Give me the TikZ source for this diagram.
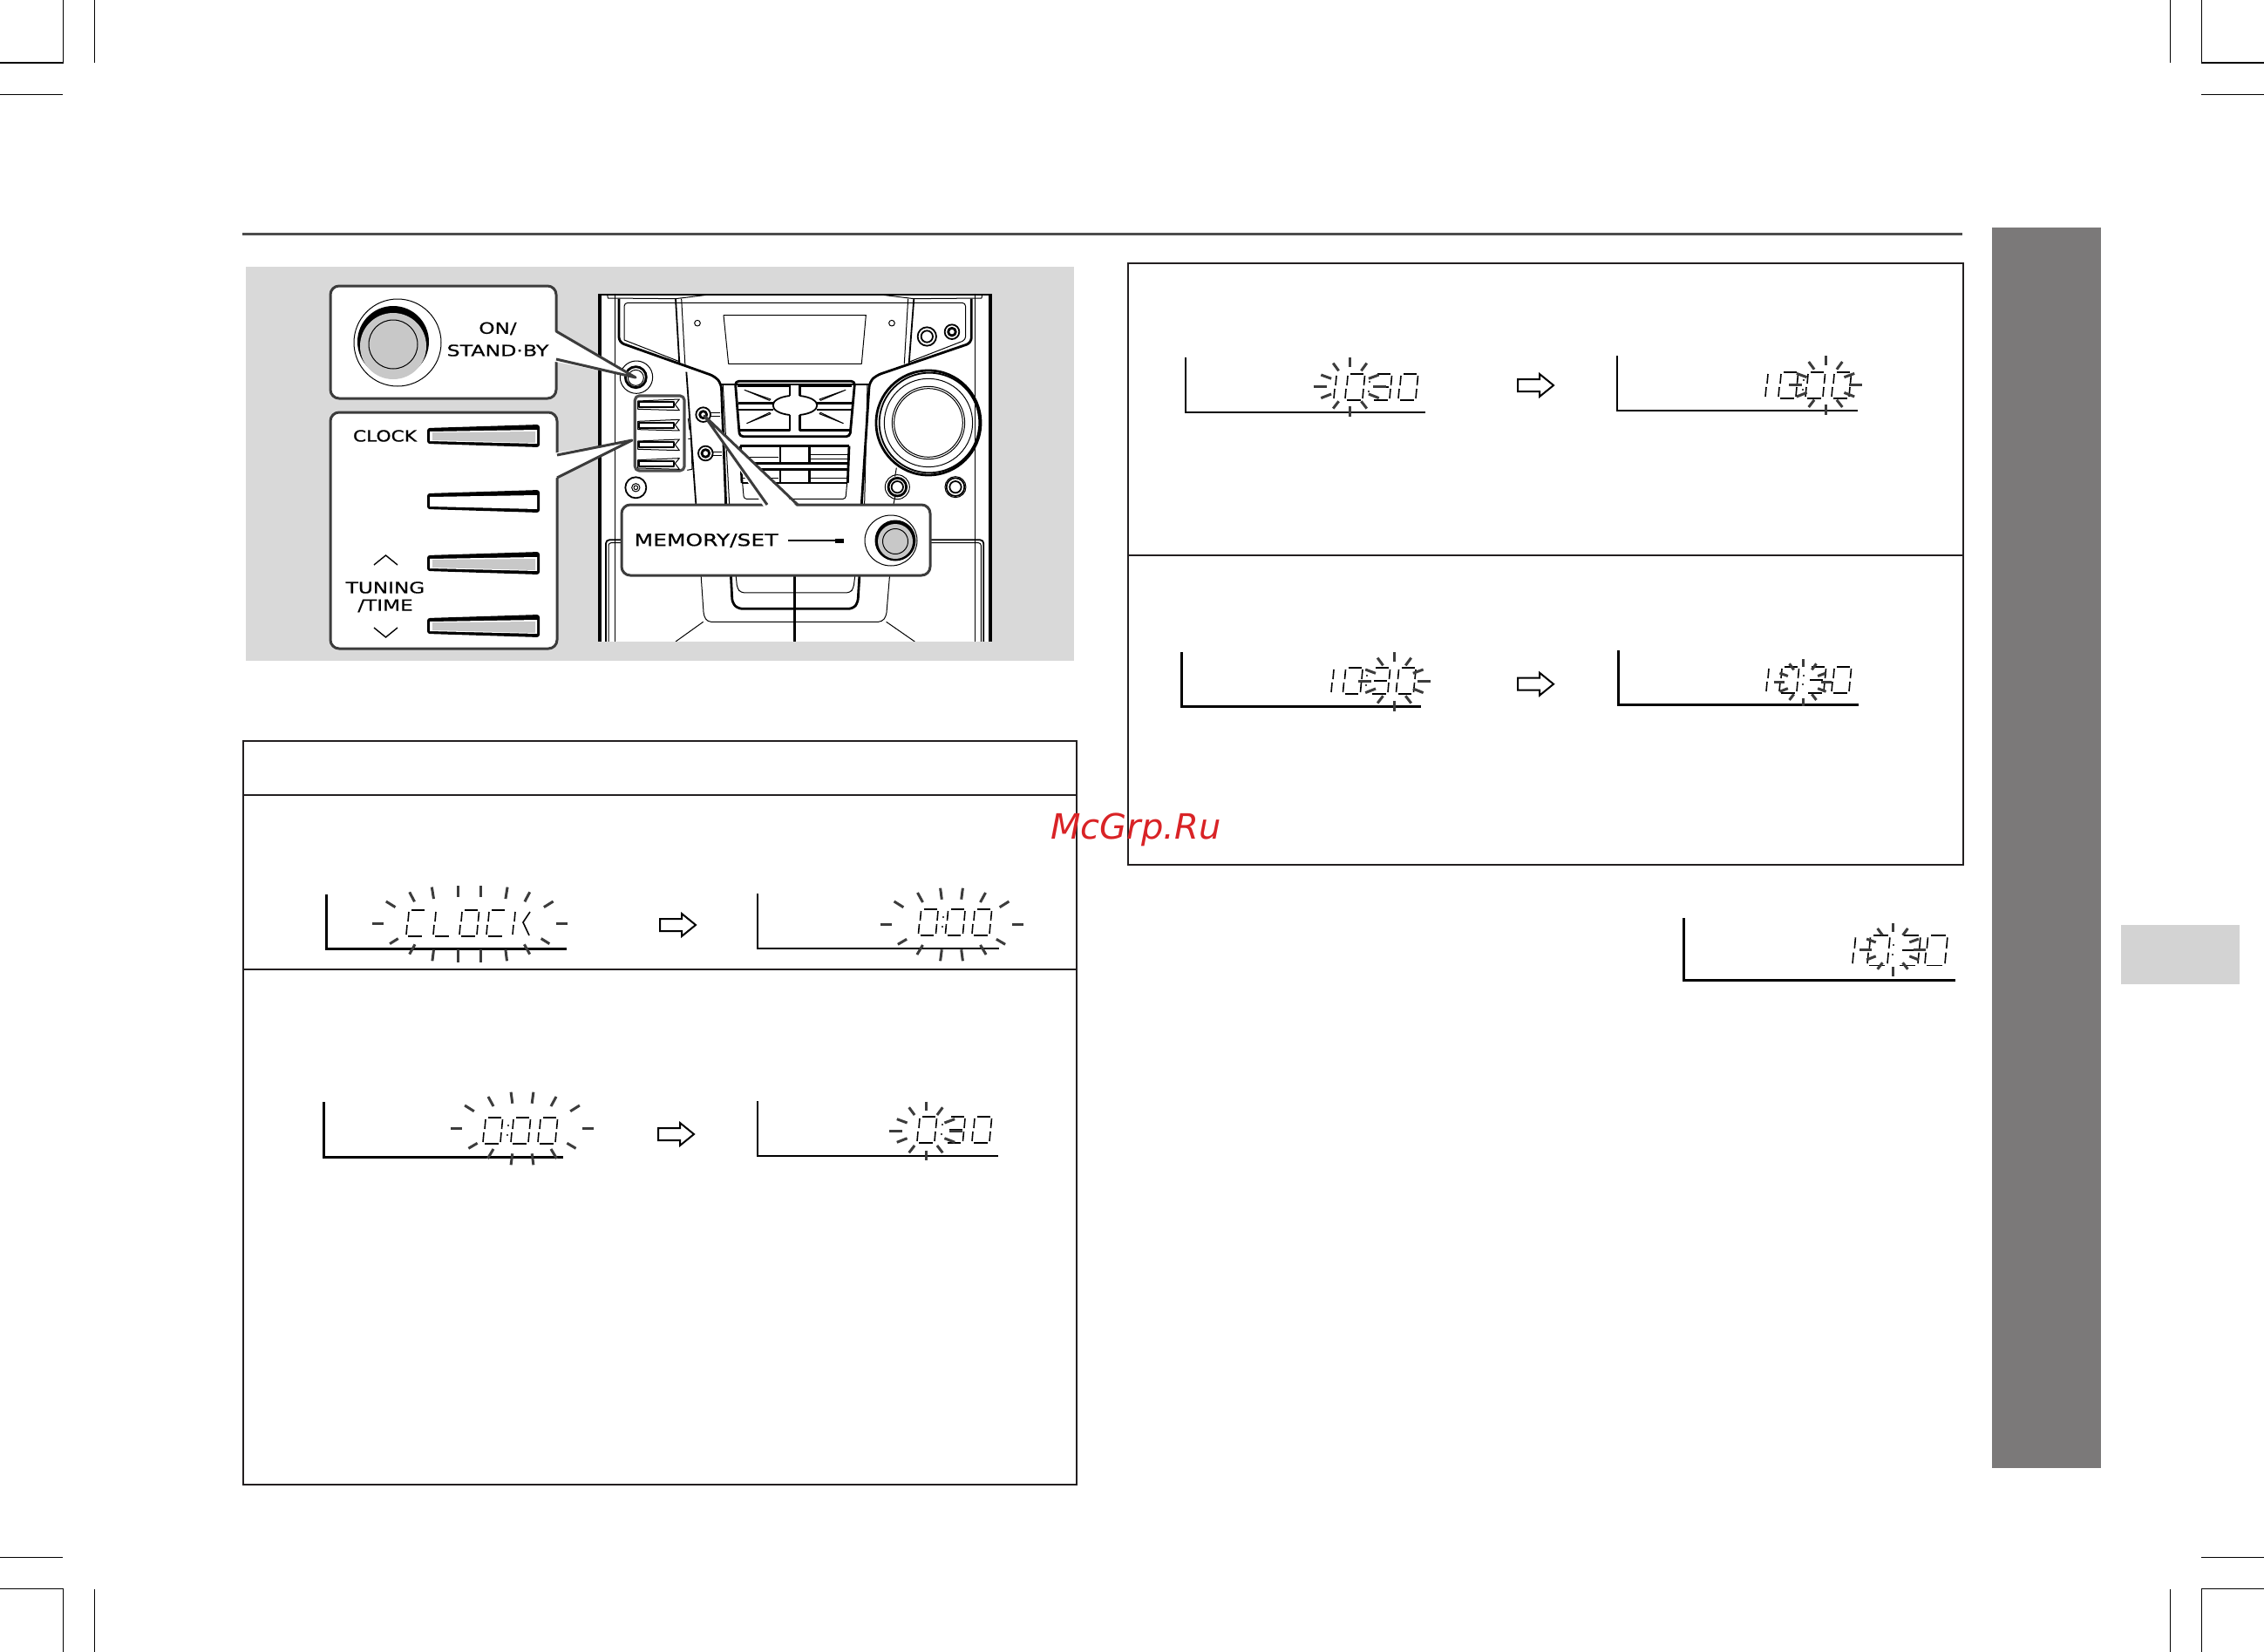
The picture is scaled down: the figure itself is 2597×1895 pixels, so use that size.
\documentclass[tikz,border=0pt]{standalone}
\usepackage{fontspec}
\setmainfont{DejaVu Sans}
\newfontfamily\capfont[FakeBold=0.5]{DejaVu Sans}
\definecolor{panelgray}{HTML}{D9D9D9}
\definecolor{sidegray}{HTML}{7B7979}
\definecolor{tabgray}{HTML}{D3D3D3}
\definecolor{btngray}{HTML}{C8C8C8}
\definecolor{inkdark}{HTML}{231F20}
\definecolor{raygray}{HTML}{3C3C3C}
\definecolor{callgray}{HTML}{3C3C3C}
\definecolor{markred}{HTML}{D92326}
\tikzset{
  crop/.style={black,line width=.7pt},
  rulebox/.style={inkdark,line width=1pt},
  seg/.style={black,line width=.8pt},
  ray/.style={raygray,line width=1.5pt},
  axisthick/.style={black,line width=1.5pt},
  axisthin/.style={black,line width=1.1pt},
  dt/.style={black,line width=.5pt,line join=round},
  dm/.style={black,line width=.9pt,line join=round},
  dk/.style={black,line width=1.4pt,line join=round},
  callout/.style={callgray,line width=1.5pt,line join=round},
  caplabel/.style={inner sep=0pt,font=\capfont\fontsize{8.9}{9}\selectfont,text=black},
}
\def\dsega{\draw[seg] (6,0)--(21,0);}
\def\dsegb{\draw[seg] (22.5,2)--(21.5,13);}
\def\dsegc{\draw[seg] (21,17)--(20,28);}
\def\dsegd{\draw[seg] (2,30)--(17.5,30);}
\def\dsege{\draw[seg] (1,17)--(0,28);}
\def\dsegf{\draw[seg] (3,2)--(2,13);}
\def\dsegg{\draw[seg] (4,15)--(19,15);}
\def\dsegk{\draw[seg] (20,2)--(12,14)--(19,29);}
\newcommand\dig[4]{\begin{scope}[shift={(#1,#2)},scale=#3]\foreach \q in {#4}{\csname dseg\q\endcsname}\end{scope}}
\newcommand\colondots[3]{\fill (#1,#2) circle[radius=1.1]; \fill (#1-1,#3) circle[radius=1.1];}
\newcommand\raysWide[2]{\begin{scope}[shift={(#1,#2)}]\foreach \s in {-1,1}{
  \draw[ray] (\s*95.9,-25.3)--(\s*85.2,-18.7);
  \draw[ray] (\s*69,-36)--(\s*63.2,-25);
  \draw[ray] (\s*43.4,-41.7)--(\s*41.2,-28.3);
  \draw[ray] (\s*12.8,-43.3)--(\s*12.8,-30);
  \draw[ray] (\s*112,0)--(\s*99,0);
  \draw[ray] (\s*91.6,23.3)--(\s*82,17.3);
  \draw[ray] (\s*62.7,24)--(\s*69,35.3);
  \draw[ray] (\s*41.2,30)--(\s*42.8,43);
  \draw[ray] (\s*12.8,30)--(\s*12.8,44.3);
}\end{scope}}
\newcommand\raysMid[2]{\begin{scope}[shift={(#1,#2)}]\foreach \s in {-1,1}{
  \draw[ray] (\s*65.9,-26)--(\s*55.2,-19.3);
  \draw[ray] (\s*39,-36)--(\s*33,-25);
  \draw[ray] (\s*12.9,-41.3)--(\s*11.2,-28.3);
  \draw[ray] (\s*82,0)--(\s*69,0);
  \draw[ray] (\s*61.6,23.3)--(\s*51.4,17.3);
  \draw[ray] (\s*33,24)--(\s*39.6,35);
  \draw[ray] (\s*11.2,29.3)--(\s*12.9,42.3);
}\end{scope}}
\newcommand\raysStar[3]{\begin{scope}[shift={(#1,#2)},scale=#3]
  \draw[ray] (0,-33.3)--(0,-22.7);
  \draw[ray] (0,22.7)--(0,34.3);
  \foreach \s in {-1,1}{
  \draw[ray] (\s*19.3,-26.7)--(\s*12.9,-18);
  \draw[ray] (\s*33.2,-13.3)--(\s*21.4,-9);
  \draw[ray] (\s*41.8,0)--(\s*26.8,0);
  \draw[ray] (\s*33.2,13.3)--(\s*21.4,8.7);
  \draw[ray] (\s*19.3,25.3)--(\s*12.9,17);
}\end{scope}}
\newcommand\axes[5]{\draw[#5] (#1,#2)--(#1,#3)--(#4,#3);}
\newcommand\blockarrow[2]{\begin{scope}[shift={(#1,#2)}]\draw[black,line width=1pt,line join=miter,fill=white] (0,6)--(25,6)--(25,0)--(41,13)--(25,26)--(25,20)--(0,20)--cycle;\end{scope}}
\newcommand\panelbtn[2]{\begin{scope}[shift={(490,#1)}]
  \fill[black,rounded corners=1.5pt] (0,4)--(129,0)--(129,26)--(0,22)--cycle;
  \fill[white] (3,8)--(126,6)--(126,22)--(3,19)--cycle;
  \fill[#2] (6,9)--(124,8)--(124,21)--(6,18)--cycle;
\end{scope}}
\begin{document}
\begin{tikzpicture}[x=.5pt,y=-.5pt]
\useasboundingbox (0,0) rectangle (2597,1895);
\fill[white] (0,0) rectangle (2597,1895);
% crop marks
\draw[crop] (0,72)--(72.5,72)--(72.5,0);
\draw[crop] (108.5,0)--(108.5,72);
\draw[crop] (0,108.5)--(72,108.5);
\draw[crop] (2597,72)--(2525.5,72)--(2525.5,0);
\draw[crop] (2489.5,0)--(2489.5,72);
\draw[crop] (2597,108.5)--(2525,108.5);
\draw[crop] (0,1786.5)--(72,1786.5);
\draw[crop] (0,1822.5)--(72.5,1822.5)--(72.5,1895);
\draw[crop] (108.5,1823)--(108.5,1895);
\draw[crop] (2597,1786.5)--(2525,1786.5);
\draw[crop] (2597,1822.5)--(2525.5,1822.5)--(2525.5,1895);
\draw[crop] (2489.5,1823)--(2489.5,1895);
% header rule, side bars
\fill[black!70] (278,266.5) rectangle (2251,269.8);
\fill[sidegray] (2285,261) rectangle (2410,1684);
\fill[tabgray] (2433,1061) rectangle (2569,1129);
% panel
\fill[panelgray] (281.5,306) rectangle (1232,758);
% device
\begin{scope}[shift={(680,330)},x=.5pt/3,y=-.5pt/3]
\begin{scope}
\clip (18,20) rectangle (1374,1218);
\fill[white] (18,20) rectangle (1374,1218);
\fill[black] (18,20) rectangle (30,1218);
\fill[black] (1362,20) rectangle (1374,1218);
\draw[dt] (75,20)--(75,1218);
\draw[dt] (1315,20)--(1315,1218);
\draw[dm] (30,23)--(1362,23);
\draw[dt] (50,23)--(52,36)--(285,38)--(400,24);
\draw[dt] (1340,23)--(1338,36)--(1105,38)--(990,24);
\draw[dk,rounded corners=3pt] (90,38)--(90,188)--(420,305)--(442,330)--(458,745);
\draw[dk,rounded corners=3pt] (1303,38)--(1303,190)--(975,302)--(952,325)--(925,745);
\draw[dt,rounded corners=2pt] (108,180)--(108,52)--(1283,52)--(1283,180)--(1090,255);
\draw[dt] (108,180)--(300,255);
\draw[dt] (448,335)--(470,745);
\draw[dt] (945,335)--(935,745);
\draw[dm] (440,332)--(950,332);
\draw[dm] (285,38)--(298,262);
\draw[dt] (305,38)--(318,272);
\draw[dm] (322,290)--(355,745);
\draw[dm] (1105,38)--(1088,262);
\draw[dt] (1085,38)--(1072,262);
% display and small holes
\draw[dt] (450,95)--(940,95)--(925,262)--(467,262)--cycle;
\draw[dt] (360,122) circle[radius=10];
\draw[dt] (1029,122) circle[radius=10];
\draw[dm] (1150,168) circle[radius=32];
\draw[dm] (1150,168) circle[radius=20];
\draw[dm] (1236,152) circle[radius=25];
\draw[dk] (1236,152) circle[radius=13];
% power
\draw[dt] (150,308) circle[radius=56];
\draw[dk] (148,308) circle[radius=36];
\draw[dt] (148,310) circle[radius=27];
% small button block
\draw[dk,draw=black!70,line width=1.6pt,rounded corners=2.5pt] (145,372) rectangle (315,630);
\foreach \y in {402,472,540,605}{
  \draw[dt] (155,\y-12)--(298,\y-18)--(283,\y)--(298,\y+20)--(155,\y+16)--cycle;
  \draw[dm] (158,\y-8) rectangle (278,\y+10);
}
\draw[dt] (328,450)--(333,490);
\draw[dt] (328,520)--(338,520)--(342,625)--(325,628);
% left knobs
\draw[dm] (380,437) circle[radius=25];
\draw[dk] (380,437) circle[radius=12];
\draw[dm] (388,570) circle[radius=25];
\draw[dk] (388,570) circle[radius=13];
\draw[dt] (405,430)--(437,430);
\draw[dt] (405,444)--(437,444);
\draw[dt] (410,565)--(445,565);
\draw[dt] (410,577)--(445,577);
\draw[dm] (148,688) circle[radius=36];
\draw[dt] (148,688) circle[radius=14];
\draw[dt] (148,688) circle[radius=7];
% control cluster
\draw[dk,rounded corners=2pt] (490,322)--(902,322)--(885,512)--(505,512)--cycle;
\draw[dk] (498,338)--(678,338)--(678,372);
\draw[dk] (892,338)--(712,338)--(712,372);
\draw[dm] (678,372) .. controls (640,376) and (620,390) .. (620,405) .. controls (620,420) and (640,434) .. (678,438);
\draw[dm] (712,372) .. controls (750,376) and (772,390) .. (772,405) .. controls (772,420) and (750,434) .. (712,438);
\draw[dk] (500,398)--(620,398);
\draw[dk] (500,420)--(620,420);
\draw[dk] (892,398)--(772,398);
\draw[dk] (892,420)--(772,420);
\draw[dk] (678,438)--(678,490)--(503,490);
\draw[dk] (712,438)--(712,490)--(887,490);
\draw[dt] (522,352)--(612,384)--(608,388)--cycle;
\draw[dt] (870,352)--(780,384)--(784,388)--cycle;
\draw[dt] (530,467)--(612,434)--(608,430)--cycle;
\draw[dt] (862,467)--(780,434)--(784,430)--cycle;
% number rows
\draw[dk] (508,545)--(882,545);
\draw[dk] (508,605)--(882,605);
\draw[dk] (510,625)--(880,625);
\draw[dk] (513,672)--(877,672);
\draw[dt] (510,585)--(640,585);
\draw[dt] (750,575)--(880,575);
\draw[dt] (750,590)--(880,590);
\draw[dt] (515,655)--(640,655);
\draw[dt] (750,655)--(878,655);
\draw[dk] (882,545)--(877,672);
\draw[dk] (508,545)--(513,672);
\foreach \xx in {645,745}{
 \draw[dk] (\xx,545)--(\xx,605);
 \draw[dk] (\xx,625)--(\xx,672);
}
\draw[dt,rounded corners=1.5pt] (515,672)--(520,727)--(870,727)--(875,672);
% big knob
\draw[dk] (1155,465) circle[radius=180];
\draw[dm] (1158,465) circle[radius=172];
\draw[dt] (1155,465) circle[radius=152];
\draw[dt] (1155,465) circle[radius=125];
\draw[dt] (1155,465) circle[radius=118];
\draw[dt] (1045,620)--(1040,650);
\draw[dt] (1040,720)--(1035,745);
\draw[dk] (1048,686) circle[radius=31];
\draw[dt] (1048,686) circle[radius=42];
\draw[dm] (1048,686) circle[radius=20];
\draw[dt] (1248,686) circle[radius=36];
\draw[dm] (1248,686) circle[radius=31];
\draw[dm] (1248,686) circle[radius=20];
% lower body
\draw[dt,rounded corners=2pt] (372,985)--(382,1130)--(395,1150)--(995,1150)--(1010,1130)--(1022,985);
\draw[dk,rounded corners=2.5pt] (475,985)--(480,1085)--(500,1105)--(895,1105)--(912,1085)--(918,985);
\draw[dt,rounded corners=2pt] (492,985)--(497,1035)--(510,1050)--(885,1050)--(897,1035)--(903,985);
\draw[dt] (380,1150)--(285,1218);
\draw[dt] (1010,1150)--(1108,1218);
\draw[black,line width=1.6pt] (695,985)--(695,1218);
\draw[dm,rounded corners=2pt] (45,1218)--(45,868)--(110,868);
\draw[dt,rounded corners=1.5pt] (54,1218)--(54,878)--(110,878);
\draw[dm,rounded corners=2pt] (1150,868)--(1345,868)--(1345,1218);
\draw[dt,rounded corners=1.5pt] (1150,878)--(1336,878)--(1336,1218);
\end{scope}
\end{scope}
% ON/STAND-BY callout
\draw[callout,fill=white,rounded corners=5pt] (379,328) rectangle (638,457);
\fill[white] (632,378)--(729,433)--(632,414)--cycle;
\draw[callout] (638,380)--(729,433)--(638,412);
\draw[dt] (456,393) circle[radius=50];
\fill[black] (451,392) circle[radius=41];
\fill[btngray] (451,397) circle[radius=38];
\draw[dt] (451,395) circle[radius=28];
\node[caplabel,xscale=1.3] (onlabel) at (571,377) {ON/};
\node[caplabel,xscale=1.33] (standby) at (571,402) {STAND·BY};
% buttons callout
\draw[callout,fill=white,rounded corners=5pt] (379,473) rectangle (639,744);
\fill[white] (634,520)--(725,505)--(634,550)--cycle;
\draw[callout] (639,522)--(725,505)--(639,548);
\panelbtn{487}{btngray}
\panelbtn{562}{white}
\panelbtn{633}{btngray}
\panelbtn{705}{btngray}
\node[caplabel,xscale=1.22] (clocklabel) at (441.5,500) {CLOCK};
\node[caplabel,xscale=1.3] (tuninglabel) at (442,674) {TUNING};
\node[caplabel,xscale=1.3] (timelabel) at (442,695) {/TIME};
\draw[black,line width=.7pt] (429,648)--(442.5,637)--(456,648);
\draw[black,line width=.7pt] (429,720)--(442.5,731)--(456,720);
% memory callout
\draw[callout,fill=white,rounded corners=5pt] (713,579) rectangle (1067,660);
\fill[white] (878,584)--(808,477)--(917,584)--cycle;
\draw[callout] (880,579)--(808,477)--(915,579);
\node[caplabel,font=\capfont\fontsize{9.6}{10}\selectfont,xscale=1.3] (memlabel) at (810,620) {MEMORY/SET};
\draw[black,line width=.6pt] (904,620)--(958,620);
\fill[black] (958,617.5) rectangle (968,622.5);
\draw[dt] (1022,620) ellipse[x radius=30,y radius=29];
\fill[black] (1027,620) circle[radius=23.5];
\fill[btngray] (1027,621) circle[radius=20];
\draw[dt] (1027,621) circle[radius=14.5];
% frames
\draw[rulebox] (278.5,849.5) rectangle (1235,1702.5);
\draw[rulebox] (278.5,912)--(1235,912);
\draw[rulebox] (278.5,1112)--(1235,1112);
\draw[rulebox] (1294,301.5) rectangle (2252,992);
\draw[rulebox] (1294,636.7)--(2252,636.7);
% display 1 CLOCK
\axes{374}{1026}{1088}{650}{axisthick}
\dig{466}{1044}{1}{a,d,e,f}
\dig{497}{1044}{1}{d,e,f}
\dig{527}{1044}{1}{a,b,c,d,e,f}
\dig{558}{1044}{1}{a,d,e,f}
\dig{588}{1044}{1}{e,f,k}
\raysWide{538.7}{1059.3}
\blockarrow{757}{1048}
% display 2
\axes{869}{1025}{1088}{1146}{axisthin}
\dig{1053.5}{1043}{1}{a,b,c,d,e,f}
\colondots{1082}{1052}{1063}
\dig{1084.5}{1043}{1}{a,b,c,d,e,f}
\dig{1115}{1043}{1}{a,b,c,d,e,f}
\raysMid{1091.5}{1060}
% display 3
\axes{371.6}{1264}{1327}{646}{axisthick}
\dig{554}{1282}{1}{a,b,c,d,e,f}
\colondots{583}{1291}{1302}
\dig{586}{1282}{1}{a,b,c,d,e,f}
\dig{617}{1282}{1}{a,b,c,d,e,f}
\raysMid{599}{1294}
\blockarrow{755}{1288}
% display 4
\axes{869}{1263}{1326}{1145}{axisthin}
\dig{1052}{1281}{1}{a,b,c,d,e,f}
\colondots{1081}{1290}{1301}
\dig{1084.5}{1281}{1}{a,b,c,d,g}
\dig{1115}{1281}{1}{a,b,c,d,e,f}
\raysStar{1062}{1297}{1}
% display 5
\axes{1360}{410}{472.7}{1635}{axisthin}
\dig{1530}{429}{1}{e,f}
\dig{1543}{429}{1}{a,b,c,d,e,f}
\colondots{1571}{438}{449}
\dig{1574}{429}{1}{a,b,c,d,g}
\dig{1604}{429}{1}{a,b,c,d,e,f}
\raysStar{1548.5}{443.3}{1}
\blockarrow{1741}{429}
% display 6
\axes{1855}{408}{471}{2131}{axisthin}
\dig{2025}{427}{1}{e,f}
\dig{2040}{427}{1}{a,b,c,d,e,f}
\colondots{2069}{436}{447}
\dig{2071}{427}{1}{a,b,c,d,e,f}
\dig{2101}{427}{1}{a,b,c,d,e,f}
\raysStar{2094}{441.7}{1}
% display 7
\axes{1355}{748}{810}{1630}{axisthick}
\dig{1527}{766}{1}{e,f}
\dig{1540.5}{766}{1}{a,b,c,d,e,f}
\colondots{1568}{775}{786}
\dig{1572}{766}{1}{a,b,c,d,g}
\dig{1601.5}{766}{1}{a,b,c,d,e,f}
\raysStar{1599.4}{781.3}{1}
\blockarrow{1741}{771.7}
% display 8
\axes{1856}{746}{808}{2132}{axisthick}
\dig{2026}{765}{1}{e,f}
\dig{2041}{765}{1}{a,b,c,d,e,f}
\colondots{2069}{775}{785}
\dig{2072}{765}{1}{a,b,c,d,g}
\dig{2101}{765}{1}{a,b,c,d,e,f}
\raysStar{2068}{782.7}{.8}
% display 9
\axes{1931.7}{1053}{1124}{2243}{axisthick}
\dig{2125}{1073}{1.15}{e,f}
\dig{2142}{1073}{1.15}{a,b,c,d,e,f}
\colondots{2172}{1084}{1095}
\dig{2177}{1073}{1.15}{a,b,c,d,g}
\dig{2208}{1073}{1.15}{a,b,c,d,e,f}
\raysStar{2171}{1089}{.9}
% watermark
\node[inner sep=0pt,anchor=base west,text=markred,font=\fontsize{20}{20}\selectfont\itshape] (watermark) at (1205,962) {McGrp.Ru};
\end{tikzpicture}
\end{document}
